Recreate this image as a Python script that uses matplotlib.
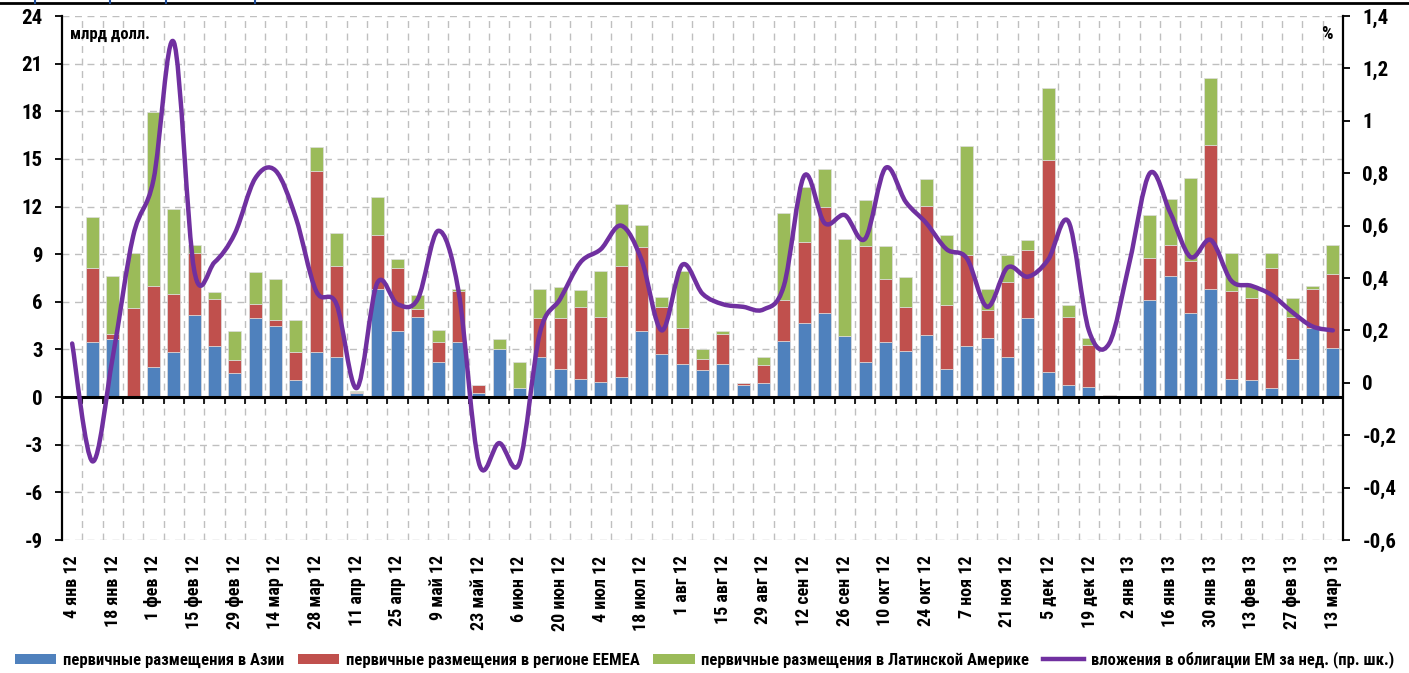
import matplotlib
matplotlib.use("Agg")
import matplotlib.pyplot as plt
from matplotlib.path import Path
from matplotlib.patches import PathPatch, Patch
from matplotlib.lines import Line2D
from matplotlib import font_manager
import numpy as np

_avail = {f.name for f in font_manager.fontManager.ttflist}
_fams = [f for f in ['Liberation Sans Narrow', 'Roboto Condensed', 'Open Sans Condensed',
                     'Roboto', 'DejaVu Sans'] if f in _avail]
plt.rcParams['font.family'] = _fams if _fams else ['DejaVu Sans']
NARROW = bool(_fams) and _fams[0] in ('Liberation Sans Narrow', 'Roboto Condensed',
                                      'Open Sans Condensed')

# ---------------- data ----------------
weeks = list(range(63))
tick_labels = ["4 янв 12", "18 янв 12", "1 фев 12", "15 фев 12", "29 фев 12", "14 мар 12",
               "28 мар 12", "11 апр 12", "25 апр 12", "9 май 12", "23 май 12", "6 июн 12",
               "20 июн 12", "4 июл 12", "18 июл 12", "1 авг 12", "15 авг 12", "29 авг 12",
               "12 сен 12", "26 сен 12", "10 окт 12", "24 окт 12", "7 ноя 12", "21 ноя 12",
               "5 дек 12", "19 дек 12", "2 янв 13", "16 янв 13", "30 янв 13", "13 фев 13",
               "27 фев 13", "13 мар 13"]

asia = [0, 3.44, 3.65, 0, 1.89, 2.83, 5.2, 3.23, 1.51, 4.97, 4.47, 1.09, 2.83, 2.52, 0.25,
        6.81, 4.15, 5.07, 2.2, 3.46, 0.25, 3.02, 0.57, 2.52, 1.78, 1.17, 0.96, 1.28, 4.15,
        2.7, 2.1, 1.7, 2.1, 0.75, 0.86, 3.52, 4.65, 5.28, 3.84, 2.2, 3.44, 2.91, 3.94, 1.78,
        3.23, 3.75, 2.52, 4.97, 1.59, 0.78, 0.65, 0, 0, 6.1, 7.65, 5.28, 6.83, 1.17, 1.07,
        0.55, 2.41, 4.34, 3.12]
eemea = [0, 4.71, 0.31, 5.58, 5.13, 3.69, 3.88, 2.95, 0.8, 0.92, 0.39, 1.74, 11.4, 5.76, 0.05,
         3.4, 4.0, 0.49, 1.24, 3.25, 0.53, 0, 0, 2.45, 3.19, 4.53, 4.11, 7.0, 5.33, 3.0, 2.26,
         0.67, 1.86, 0.13, 1.13, 2.58, 5.14, 6.69, 0, 7.3, 4.0, 2.79, 8.11, 4.01, 5.74, 1.74,
         4.71, 4.32, 13.34, 4.29, 2.66, 0.15, 0, 2.68, 1.95, 3.32, 9.04, 5.54, 5.14, 7.6,
         2.66, 2.47, 4.62]
latam = [0, 3.19, 3.69, 3.52, 10.93, 5.35, 0.52, 0.44, 1.84, 1.97, 2.58, 2.03, 1.54, 2.06,
         0.06, 2.37, 0.53, 0.86, 0.79, 0.12, 0, 0.63, 1.63, 1.84, 1.97, 1.03, 2.88, 3.9, 1.36,
         0.61, 3.59, 0.65, 0.19, 0, 0.53, 5.47, 3.41, 2.37, 6.1, 2.89, 2.06, 1.85, 1.66, 4.42,
         6.82, 1.34, 1.74, 0.63, 4.55, 0.74, 0.44, 0, 0, 2.67, 2.87, 5.22, 4.23, 2.37, 0.79,
         0.93, 1.14, 0.21, 1.84]
bond_flows = [0.15, -0.30, 0.10, 0.56, 0.775, 1.30, 0.43, 0.46, 0.57, 0.78, 0.81, 0.63, 0.35,
              0.30, -0.02, 0.38, 0.30, 0.32, 0.58, 0.35, -0.305, -0.23, -0.305, 0.19, 0.32,
              0.46, 0.51, 0.60, 0.47, 0.20, 0.45, 0.34, 0.30, 0.29, 0.28, 0.37, 0.79, 0.61,
              0.64, 0.55, 0.82, 0.69, 0.61, 0.51, 0.475, 0.29, 0.44, 0.405, 0.47, 0.615, 0.20,
              0.15, 0.46, 0.80, 0.65, 0.48, 0.545, 0.39, 0.37, 0.335, 0.27, 0.215, 0.20]

series_names = ["первичные размещения в Азии", "первичные размещения в регионе EEMEA",
                "первичные размещения в Латинской Америке",
                "вложения в облигации EM за нед. (пр. шк.)"]

c_blue, c_red, c_green, c_purple = "#4F81BD", "#C0504D", "#9BBB59", "#7030A0"

# ---------------- figure ----------------
fig = plt.figure(figsize=(14.09, 6.73), dpi=100)
ax = fig.add_axes([62 / 1409, 1 - 540 / 673, (1343 - 62) / 1409, (540 - 16) / 673])
ax2 = ax.twinx()

x = np.array(weeks, dtype=float)
asia_a, eemea_a, latam_a = np.array(asia), np.array(eemea), np.array(latam)
bw = 0.64
ek = dict(edgecolor="#dddddd", linewidth=0.5)
ax.bar(x, asia_a, bw, color=c_blue, zorder=2, **ek)
ax.bar(x, eemea_a, bw, bottom=asia_a, color=c_red, zorder=2, **ek)
ax.bar(x, latam_a, bw, bottom=asia_a + eemea_a, color=c_green, zorder=2, **ek)

ax.set_xlim(-0.5, len(weeks) - 0.5)
ax.set_ylim(-9, 24)
ax.set_yticks(np.arange(-9, 25, 3))
ax.set_yticklabels([str(v) for v in range(-9, 25, 3)], fontweight="bold")

# grid
grid_kw = dict(color="#bfbfbf", linewidth=1.0, linestyle=(0, (5, 4)), zorder=0.5)
for yv in np.arange(-9, 25, 3):
    if yv != 0:
        ax.axhline(yv, **grid_kw)
bounds = x[:-1] + 0.5
for bx in bounds:
    ax.axvline(bx, **grid_kw)

ax.axhline(0, color="black", linewidth=2.2, zorder=3)
ax.vlines(bounds, -0.42, 0, color="black", linewidth=1.2, zorder=3)

tick_fs = 13 if NARROW else 12
ax.set_xticks(x[::2])
ax.set_xticklabels(tick_labels, rotation=90, fontsize=tick_fs, va="top", ha="center",
                   fontweight="bold")
ax.tick_params(axis="x", length=0, pad=11)
ax.tick_params(axis="y", direction="out", length=5, width=1.3, labelsize=15, pad=9)

for s in ["top", "bottom", "right"]:
    ax.spines[s].set_visible(False)
ax.spines["left"].set_linewidth(1.6)

# secondary axis with smoothed line
ax2.set_ylim(-0.6, 1.4)
rt = np.round(np.arange(-0.6, 1.41, 0.2), 1)
ax2.set_yticks(rt)
def fmt(v):
    s = ("%g" % v).replace(".", ",")
    return "0" if s in ("-0", "0") else s
ax2.set_yticklabels([fmt(v) for v in rt], fontweight="bold")
ax2.tick_params(axis="y", direction="out", length=5, width=1.3, labelsize=15, pad=9)
for s in ["top", "bottom", "left"]:
    ax2.spines[s].set_visible(False)
ax2.spines["right"].set_linewidth(1.6)

yv = np.array(bond_flows)
n = len(yv)
t = 1 / 6
verts = [(x[0], yv[0])]
codes = [Path.MOVETO]
for i in range(n - 1):
    im1 = max(i - 1, 0)
    ip2 = min(i + 2, n - 1)
    c1 = (x[i] + (x[i + 1] - x[im1]) * t, yv[i] + (yv[i + 1] - yv[im1]) * t)
    c2 = (x[i + 1] - (x[ip2] - x[i]) * t, yv[i + 1] - (yv[ip2] - yv[i]) * t)
    verts += [c1, c2, (x[i + 1], yv[i + 1])]
    codes += [Path.CURVE4] * 3
ax2.add_patch(PathPatch(Path(verts, codes), fill=False, edgecolor=c_purple,
                        linewidth=3.2, capstyle="round", joinstyle="round", zorder=5))

fig.text(70 / 1409, 1 - 34 / 673, "млрд долл.", fontsize=12, fontweight="bold",
         va="center", ha="left")
fig.text(1333 / 1409, 1 - 34 / 673, "%", fontsize=13, fontweight="bold",
         va="center", ha="right")

# top border line
fig.add_artist(Line2D([0, 1], [1 - 3 / 673, 1 - 3 / 673], color="black", linewidth=2,
                      transform=fig.transFigure))
for bx in [35, 110, 166, 255]:
    fig.add_artist(Line2D([bx / 1409, bx / 1409], [1 - 3 / 673, 1.0], color="#1f4e9a",
                          linewidth=1.5, transform=fig.transFigure))

handles = [Patch(facecolor=c_blue), Patch(facecolor=c_red), Patch(facecolor=c_green),
           Line2D([0], [0], color=c_purple, linewidth=3.2)]
leg_fs = 12 if NARROW else 10.5
leg = fig.legend(handles, series_names, loc="center", bbox_to_anchor=(0.5, 1 - 660 / 673),
                 ncol=4, frameon=False, fontsize=leg_fs, handlelength=2.5, handleheight=0.55,
                 handletextpad=0.4, columnspacing=0.8, borderaxespad=0)
for txt in leg.get_texts():
    txt.set_fontweight("bold")

fig.savefig("out.png", dpi=100)
